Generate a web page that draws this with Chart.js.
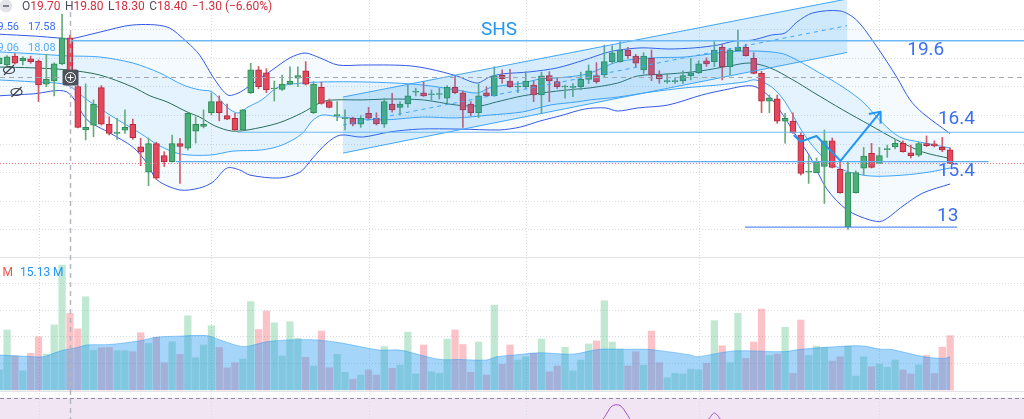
<!DOCTYPE html>
<html>
<head>
<meta charset="utf-8">
<script src="https://cdn.jsdelivr.net/npm/chart.js@4.4.1/dist/chart.umd.min.js"></script>
<style>
  html, body { margin: 0; padding: 0; background: #fff; }
  #wrap { width: 1024px; height: 419px; position: relative; }
</style>
</head>
<body>
<div id="wrap"><canvas id="chart"></canvas></div>
<script>
// OHLC per bar (index 0 = partly cut bar at the left edge)
const opens = [18.8, 18.75, 19.06, 18.9, 18.97, 18.89, 18.08, 18.19, 18.79, 19.70,
  18.0, 16.48, 16.65, 17.96, 16.68, 16.36, 16.47, 16.68, 15.89, 15.0,
  16.0, 15.58, 15.37, 16.0, 15.84, 16.44, 16.6, 17.08, 17.47, 16.98,
  16.89, 16.48, 17.78, 18.58, 18.48, 17.91, 17.9, 18.08, 18.29, 18.55,
  17.08, 17.97, 17.47, 16.98, 16.87, 16.89, 16.68, 17.06, 16.89, 16.68,
  17.38, 17.27, 17.39, 17.8, 17.78, 17.71, 17.72, 17.59, 17.97, 17.78,
  17.38, 17.08, 17.78, 17.68, 18.39, 18.19, 17.98, 17.99, 18.05, 17.7,
  18.38, 18.17, 17.98, 17.97, 17.99, 18.25, 18.38, 18.4, 18.87, 18.87,
  19.27, 19.06, 18.58, 18.98, 18.4, 18.17, 18.17, 18.19, 18.38, 18.48,
  18.9, 18.87, 19.37, 18.69, 19.25, 19.37, 18.98, 18.46, 17.49, 17.57,
  16.79, 16.79, 16.3, 15.0, 14.99, 15.2, 16.1, 15.1, 13.1, 14.29,
  15.14, 15.66, 15.31, 15.79, 15.89, 16.01, 15.68, 15.6, 16.0, 15.99,
  15.87, 15.78]
const highs = [19.05, 19.08, 19.15, 19.04, 19.06, 18.93, 19.12, 18.83, 20.53, 19.80,
  18.05, 18.09, 17.53, 18.03, 16.94, 16.89, 17.18, 16.86, 16.19, 16.2,
  16.05, 15.72, 16.3, 16.19, 17.1, 16.94, 17.18, 17.78, 17.67, 17.38,
  17.06, 17.2, 18.81, 18.7, 18.62, 18.19, 18.4, 18.69, 18.69, 18.87,
  18.17, 18.15, 17.56, 17.47, 17.18, 16.93, 16.98, 17.27, 17.08, 17.59,
  17.76, 17.47, 18.05, 17.94, 18.17, 17.88, 17.94, 18.03, 18.37, 17.85,
  17.47, 18.09, 17.99, 18.69, 18.58, 18.6, 18.17, 18.52, 18.19, 18.5,
  18.52, 18.3, 18.05, 18.1, 18.5, 18.75, 18.83, 19.45, 19.42, 19.57,
  19.37, 19.12, 19.18, 19.27, 18.55, 18.46, 18.3, 18.55, 18.98, 18.9,
  19.0, 19.57, 19.47, 19.33, 19.97, 19.48, 19.18, 18.53, 17.7, 17.7,
  17.06, 17.08, 16.4, 15.58, 15.5, 16.48, 16.2, 15.38, 15.37, 15.05,
  15.87, 16.01, 15.87, 15.95, 16.15, 16.1, 15.95, 16.05, 16.27, 16.1,
  16.22, 15.85]
const lows = [18.7, 18.7, 18.78, 18.75, 18.81, 17.47, 17.99, 17.67, 18.75, 18.30,
  16.55, 16.13, 16.24, 16.65, 16.3, 16.15, 16.36, 16.15, 15.23, 14.53,
  14.75, 15.2, 15.35, 14.61, 15.78, 16.02, 16.55, 17.0, 16.8, 16.84,
  16.46, 16.45, 17.75, 17.92, 17.78, 17.49, 17.86, 18.05, 17.99, 18.05,
  17.05, 17.38, 17.25, 16.8, 16.48, 16.62, 16.57, 16.85, 16.65, 16.57,
  17.1, 17.0, 17.27, 17.67, 17.65, 17.53, 17.56, 17.43, 17.75, 16.57,
  16.98, 16.91, 17.65, 17.65, 18.11, 17.97, 17.78, 17.92, 17.47, 17.06,
  17.47, 17.93, 17.59, 17.64, 17.88, 18.1, 18.11, 18.34, 18.8, 18.85,
  18.98, 18.69, 18.44, 18.2, 18.11, 18.11, 18.11, 18.11, 18.23, 18.45,
  18.7, 18.69, 18.23, 18.4, 19.24, 19.06, 18.44, 17.08, 17.08, 16.71,
  16.02, 16.36, 14.9, 14.61, 14.98, 13.91, 15.15, 14.27, 13.0, 14.27,
  14.9, 15.15, 15.3, 15.52, 15.82, 15.7, 15.5, 15.55, 15.9, 15.88,
  15.72, 15.3]
const closes = [19.0, 19.04, 18.81, 18.98, 18.87, 18.05, 18.26, 18.79, 19.70, 18.40,
  16.57, 16.57, 17.38, 16.68, 16.36, 16.39, 16.57, 16.21, 15.7, 16.0,
  14.79, 15.37, 16.0, 15.9, 17.06, 16.68, 16.68, 17.47, 17.08, 16.86,
  16.48, 17.18, 18.58, 17.99, 17.88, 17.93, 18.08, 18.19, 18.38, 18.08,
  18.08, 17.41, 17.27, 17.0, 16.9, 16.68, 16.89, 16.89, 16.69, 17.47,
  17.18, 17.38, 17.67, 17.82, 17.67, 17.73, 17.74, 17.97, 17.78, 17.18,
  17.08, 17.67, 17.67, 18.37, 18.27, 17.99, 18.0, 18.19, 17.7, 18.37,
  18.19, 17.99, 18.0, 18.0, 18.25, 18.55, 18.17, 18.87, 19.18, 19.27,
  19.08, 18.81, 19.06, 18.4, 18.27, 18.19, 18.2, 18.38, 18.48, 18.79,
  18.79, 19.27, 18.69, 19.27, 19.37, 19.08, 18.46, 17.49, 17.6, 16.79,
  16.89, 16.38, 14.96, 15.03, 15.37, 16.1, 15.17, 14.29, 14.99, 14.99,
  15.57, 15.17, 15.58, 15.81, 16.01, 15.72, 15.58, 16.0, 15.93, 15.92,
  15.78, 15.31]

// volume per bar, millions
const volumes = [7.5, 22.4, 12.7, 7.2, 13.7, 19.9, 13.4, 24.3, 46.6, 28.6,
  22.8, 34.8, 14.9, 15.8, 15.9, 14.7, 14.7, 14.3, 21.4, 17.4,
  19.7, 10.2, 18.0, 13.3, 27.7, 12.1, 16.8, 24.0, 15.9, 8.3,
  10.2, 11.6, 33.0, 22.6, 29.5, 25.1, 12.7, 25.5, 19.3, 12.2,
  9.0, 22.0, 8.3, 13.3, 6.6, 4.0, 5.6, 7.5, 5.6, 16.2,
  8.1, 9.3, 21.6, 6.0, 16.8, 6.8, 6.2, 19.0, 22.4, 17.0,
  6.6, 17.9, 5.6, 31.7, 9.6, 16.8, 11.2, 12.4, 13.7, 19.0,
  6.8, 9.0, 15.9, 7.1, 11.2, 17.2, 18.3, 33.3, 17.9, 15.3,
  9.0, 14.3, 9.3, 22.0, 10.2, 4.6, 6.2, 6.0, 7.8, 7.5,
  10.0, 25.9, 16.5, 10.2, 28.6, 11.8, 17.9, 30.2, 12.9, 13.4,
  23.4, 6.2, 26.1, 12.9, 16.4, 15.9, 10.8, 12.4, 16.4, 5.2,
  12.4, 8.7, 9.7, 8.5, 11.2, 7.5, 6.0, 9.4, 12.9, 6.2,
  16.0, 20.3]

// volume moving average, [bar, millions]
const volumeMA = [[-0.2, 13.1], [2.6, 12.7], [5.6, 12.4], [6.9, 13.7], [8.2, 14.9], [9.86, 15.8],
  [11.1, 16.8], [14.1, 17.0], [17.9, 18.4], [20.0, 19.7], [23.0, 20.1], [26.4, 20.3],
  [28.1, 18.7], [31.1, 16.2], [34.0, 18.0], [37.0, 18.7], [40.4, 18.7], [43.4, 17.6],
  [45.9, 16.2], [48.4, 14.9], [51.0, 14.9], [53.5, 13.1], [56.1, 11.4], [58.6, 11.4],
  [62.0, 11.2], [63.3, 12.4], [66.3, 13.3], [68.8, 13.9], [73.0, 13.4], [76.4, 15.2],
  [79.8, 15.2], [82.4, 15.2], [84.1, 14.7], [87.9, 13.1], [88.8, 12.4], [93.5, 14.6],
  [99.85, 14.3], [102.0, 15.2], [107.9, 16.4], [110.0, 16.4], [112.15, 15.2], [113.4, 15.2],
  [117.7, 12.4], [120.2, 11.8], [121.0, 12.4]]

// Bollinger lines, [bar, price]
const bbOuterUpper = [[-0.2, 19.83], [4.55, 19.76], [7.74, 19.69], [9.0, 19.66], [12.8, 19.90], [17.0, 20.15],
  [21.35, 20.08], [23.9, 19.55], [25.5, 19.10], [27.45, 18.23], [29.1, 17.70], [30.4, 17.77],
  [31.65, 17.98], [34.7, 18.57], [37.0, 19.0], [38.9, 19.17], [40.8, 19.0], [43.1, 18.75],
  [46.2, 18.75], [49.7, 18.75], [52.3, 18.72], [54.8, 18.61], [58.2, 18.37], [60.8, 18.12],
  [62.4, 18.33], [64.1, 18.44], [67.5, 18.51], [71.0, 18.65], [74.5, 18.93], [77.1, 19.17],
  [78.7, 19.27], [81.8, 19.35], [85.1, 19.31], [88.5, 19.35], [91.45, 19.45], [93.6, 19.59],
  [95.8, 19.62], [98.3, 19.80], [100.0, 19.87], [101.5, 20.25], [103.5, 20.57], [107.0, 20.64],
  [109.1, 20.32], [111.7, 19.38], [114.2, 18.33], [115.9, 17.53], [117.5, 17.07], [121.0, 16.35]]
const bbOuterLower = [[-0.2, 17.67], [4.3, 17.74], [8.6, 17.81], [11.2, 16.83], [14.1, 16.37], [17.0, 15.88],
  [18.8, 15.32], [20.1, 14.73], [23.0, 14.38], [25.5, 14.45], [27.2, 14.66], [29.0, 15.15],
  [30.6, 15.08], [31.9, 14.90], [35.7, 14.80], [38.3, 15.01], [39.9, 15.50], [41.7, 16.02],
  [43.4, 16.30], [46.2, 16.23], [49.7, 16.41], [53.5, 16.51], [58.6, 16.51], [63.7, 16.48],
  [66.3, 16.58], [68.8, 16.79], [71.35, 16.97], [74.5, 17.21], [77.1, 17.25], [78.7, 17.14],
  [81.3, 17.25], [85.1, 17.35], [89.4, 17.70], [92.3, 17.88], [95.8, 18.02], [97.8, 17.70],
  [99.3, 17.18], [101.2, 16.37], [103.2, 15.53], [105.3, 14.42], [107.9, 13.68], [110.8, 13.33],
  [112.4, 13.30], [115.0, 13.82], [117.5, 14.27], [121.0, 14.59]]
const bbInnerUpper = [[-0.2, 19.21], [4.55, 19.14], [8.6, 19.07], [12.8, 19.03], [17.0, 18.82], [20.45, 18.47],
  [23.4, 18.05], [25.5, 17.88], [27.1, 17.81], [29.1, 17.25], [30.4, 17.07], [31.65, 17.28],
  [33.4, 17.53], [35.5, 17.98], [38.5, 18.12], [41.8, 18.16], [45.9, 18.16], [50.35, 18.12],
  [53.9, 18.05], [58.2, 17.88], [60.8, 17.77], [62.4, 17.95], [64.6, 18.05], [66.6, 18.12],
  [68.8, 18.26], [71.0, 18.30], [73.5, 18.37], [75.2, 18.47], [78.7, 18.86], [83.05, 19.0],
  [87.25, 19.03], [91.45, 19.17], [94.9, 19.24], [98.1, 19.21], [100.2, 19.10], [104.4, 18.47],
  [107.35, 17.98], [109.9, 17.46], [112.4, 16.72], [114.6, 16.23], [117.1, 16.06], [121.0, 15.85]]
const bbInnerLower = [[-0.2, 18.23], [4.3, 18.16], [8.6, 18.05], [11.2, 17.53], [14.1, 17.0], [17.9, 16.37],
  [20.45, 15.92], [23.0, 15.64], [26.8, 15.60], [29.75, 15.74], [33.4, 15.78], [36.0, 15.95],
  [38.5, 16.34], [39.8, 16.79], [41.07, 17.0], [43.4, 16.93], [48.7, 16.83], [53.9, 16.93],
  [58.2, 16.90], [62.4, 17.0], [66.6, 17.11], [70.1, 17.35], [73.5, 17.46], [75.2, 17.53],
  [78.7, 17.63], [83.05, 17.81], [87.25, 17.95], [91.45, 18.05], [94.9, 18.16], [96.2, 18.23],
  [98.3, 17.98], [100.0, 17.46], [102.3, 16.37], [104.8, 15.53], [107.35, 15.08], [110.8, 14.87],
  [115.0, 14.90], [118.4, 15.01], [121.0, 15.15]]
const bbBasis = [[-0.2, 18.68], [4.3, 18.65], [8.6, 18.58], [12.8, 18.40], [17.0, 17.98], [19.2, 17.67],
  [21.35, 17.46], [23.9, 17.11], [25.5, 16.93], [27.45, 16.62], [29.6, 16.44], [31.65, 16.48],
  [35.5, 16.72], [38.5, 17.07], [41.07, 17.46], [42.7, 17.53], [46.2, 17.53], [49.7, 17.56],
  [53.9, 17.53], [58.2, 17.35], [61.2, 17.32], [63.3, 17.46], [66.6, 17.67], [70.1, 17.81],
  [73.5, 17.91], [75.2, 17.95], [78.7, 18.12], [81.3, 18.37], [85.35, 18.44], [89.2, 18.54],
  [93.0, 18.72], [95.5, 18.82], [98.1, 18.65], [101.0, 18.23], [103.5, 17.81], [107.35, 17.18],
  [110.8, 16.65], [114.2, 16.13], [117.5, 15.71], [121.0, 15.48]]

// RSI, only the stretches that reach into the visible strip
const rsiValues = [[76, 45], [77, 53.5], [78, 63.1], [79, 63.5], [80, 55], [81, 46],
  [90, 51], [91, 57.2], [92, 50]]
const rsiBand = [30, 70]

// drawings on the price pane
const channel = { from: 43.74, to: 107.9, top: [17.63, 21.06], bottom: [15.67, 19.19] }
const rays = [{ from: 9, price: 19.6, width: 1.5 }, { from: 30.3, price: 16.4, width: 1 }]
const segments = [{ from: 22.5, to: 125.9, price: 15.37, color: '#5aaef5' },
  { from: 94.9, to: 121.9, price: 13.08, color: '#5b8ff5' }]
const arrowPath = [[101.1, 16.30], [101.97, 16.07], [104.0, 16.27], [107.05, 15.40], [112.15, 17.12]]
const levelLabels = [
  { text: 'SHS', at: 63.6, price: 19.96, color: '#2196f3' },
  { text: '19.6', at: 117.9, price: 19.28, color: '#3a6ff2' },
  { text: '16.4', at: 121.8, price: 16.84, color: '#3a6ff2' },
  { text: '15.4', at: 121.8, price: 15.03, color: '#3a6ff2' },
  { text: '13', at: 120.7, price: 13.47, color: '#3a6ff2' }
]
const crosshair = { at: 9, price: 18.33 }
const monthTicks = [5, 27, 47, 67, 89, 112]
const priceGrid = [13, 14, 15, 16, 17, 18, 19, 20]
const volumeGrid = [10, 20, 30, 40]
const headerValues = [['O', '19.70'], ['H', '19.80'], ['L', '18.30'], ['C', '18.40']]
const headerChange = '\u22121.30 (\u22126.60%)'

const isUp = (i) => closes[i] >= opens[i]
const toXY = (pts) => pts.map(([x, y]) => ({ x, y }))

const GREEN = '#4caf78'
const GREEN_EDGE = '#2e8b57'
const RED = '#e5475c'
const RED_EDGE = '#b02a3c'

// pane separators (layout, in pixels)
const VOLUME_PANE_TOP = 257.5
const RSI_PANE_TOP = 391.5

const hline = (ctx, y, x0, x1) => {
  ctx.beginPath()
  ctx.moveTo(x0, y)
  ctx.lineTo(x1, y)
  ctx.stroke()
}

const backgroundLayer = {
  id: 'backgroundLayer',
  beforeDatasetsDraw(chart) {
    const { ctx, chartArea: a, scales } = chart
    const { x, y, yv, yr } = scales
    ctx.save()
    // RSI band
    const r70 = yr.getPixelForValue(rsiBand[1])
    const r30 = yr.getPixelForValue(rsiBand[0])
    ctx.fillStyle = '#f1e5f4'
    ctx.fillRect(a.left, r70, a.right - a.left, r30 - r70)

    // dotted grid
    ctx.strokeStyle = '#d9dce3'
    ctx.lineWidth = 1
    ctx.setLineDash([1, 2])
    priceGrid.forEach((p) => hline(ctx, Math.round(y.getPixelForValue(p)) + 0.5, a.left, a.right))
    volumeGrid.forEach((v) => hline(ctx, Math.round(yv.getPixelForValue(v)) + 0.5, a.left, a.right))
    monthTicks.forEach((t) => {
      const px = Math.round(x.getPixelForValue(t)) + 0.5
      ctx.beginPath()
      ctx.moveTo(px, a.top)
      ctx.lineTo(px, a.bottom)
      ctx.stroke()
    })

    // pane separators
    ctx.setLineDash([])
    ctx.strokeStyle = '#e0e3eb'
    hline(ctx, VOLUME_PANE_TOP, a.left, a.right)
    hline(ctx, RSI_PANE_TOP, a.left, a.right)

    // RSI 70 level
    ctx.strokeStyle = '#8d8f99'
    ctx.setLineDash([4, 3])
    hline(ctx, Math.round(r70) + 0.5, a.left, a.right)
    ctx.restore()
  }
}

const drawingLayer = {
  id: 'drawingLayer',
  afterDatasetsDraw(chart) {
    const { ctx, chartArea: a, scales } = chart
    const { x, y } = scales
    const px = (v) => x.getPixelForValue(v)
    const py = (v) => y.getPixelForValue(v)
    ctx.save()

    // parallel channel
    const cx0 = px(channel.from), cx1 = px(channel.to)
    ctx.fillStyle = 'rgba(33,150,243,0.18)'
    ctx.beginPath()
    ctx.moveTo(cx0, py(channel.top[0]))
    ctx.lineTo(cx1, py(channel.top[1]))
    ctx.lineTo(cx1, py(channel.bottom[1]))
    ctx.lineTo(cx0, py(channel.bottom[0]))
    ctx.closePath()
    ctx.fill()
    ctx.strokeStyle = '#42a5f5'
    ctx.lineWidth = 1
    ctx.beginPath()
    ctx.moveTo(cx0, py(channel.top[0]))
    ctx.lineTo(cx1, py(channel.top[1]))
    ctx.moveTo(cx0, py(channel.bottom[0]))
    ctx.lineTo(cx1, py(channel.bottom[1]))
    ctx.stroke()
    ctx.setLineDash([4, 4])
    ctx.beginPath()
    ctx.moveTo(cx0, (py(channel.top[0]) + py(channel.bottom[0])) / 2)
    ctx.lineTo(cx1, (py(channel.top[1]) + py(channel.bottom[1])) / 2)
    ctx.stroke()
    ctx.setLineDash([])

    // horizontal rays and segments
    rays.forEach((r) => {
      ctx.strokeStyle = '#6cb9f6'
      ctx.lineWidth = r.width
      hline(ctx, py(r.price), px(r.from), a.right)
    })
    segments.forEach((s) => {
      ctx.strokeStyle = s.color
      ctx.lineWidth = 1.2
      hline(ctx, py(s.price), px(s.from), Math.min(px(s.to), a.right))
    })

    // arrow path
    ctx.strokeStyle = '#2196f3'
    ctx.lineWidth = 2
    ctx.lineJoin = 'round'
    ctx.beginPath()
    arrowPath.forEach(([i, p], k) => (k ? ctx.lineTo(px(i), py(p)) : ctx.moveTo(px(i), py(p))))
    ctx.stroke()
    const [ti, tp] = arrowPath[arrowPath.length - 1]
    const [si, sp] = arrowPath[arrowPath.length - 2]
    const ex = px(ti), ey = py(tp)
    const ang = Math.atan2(ey - py(sp), ex - px(si))
    ctx.beginPath()
    ctx.moveTo(ex + 12 * Math.cos(ang + Math.PI * 0.78), ey + 12 * Math.sin(ang + Math.PI * 0.78))
    ctx.lineTo(ex, ey)
    ctx.lineTo(ex + 12 * Math.cos(ang - Math.PI * 0.78), ey + 12 * Math.sin(ang - Math.PI * 0.78))
    ctx.stroke()

    // labels
    ctx.font = '19px Roboto, "Liberation Sans", sans-serif'
    ctx.textAlign = 'center'
    ctx.textBaseline = 'middle'
    levelLabels.forEach((l) => {
      ctx.fillStyle = l.color
      ctx.fillText(l.text, px(l.at), py(l.price))
    })

    // last price line
    ctx.strokeStyle = '#f07a84'
    ctx.lineWidth = 1
    ctx.setLineDash([1, 2])
    hline(ctx, Math.round(py(closes[closes.length - 1])) + 0.5, a.left, a.right)

    // crosshair
    const chx = Math.round(px(crosshair.at)) + 0.5
    const chy = Math.round(py(crosshair.price)) + 0.5
    ctx.strokeStyle = '#b4b7bf'
    ctx.lineWidth = 1.5
    ctx.setLineDash([5, 4])
    ctx.beginPath()
    ctx.moveTo(chx, a.top + 12)
    ctx.lineTo(chx, a.bottom)
    ctx.stroke()
    ctx.strokeStyle = '#a3a6af'
    ctx.lineWidth = 1
    hline(ctx, chy, a.left, a.right)
    ctx.setLineDash([])
    ctx.fillStyle = '#4e515b'
    ctx.beginPath()
    ctx.roundRect(chx - 8, chy - 8, 16, 16, 2)
    ctx.fill()
    ctx.strokeStyle = '#ffffff'
    ctx.lineWidth = 1
    ctx.beginPath()
    ctx.arc(chx, chy, 5, 0, Math.PI * 2)
    ctx.moveTo(chx - 3, chy)
    ctx.lineTo(chx + 3, chy)
    ctx.moveTo(chx, chy - 3)
    ctx.lineTo(chx, chy + 3)
    ctx.stroke()

    // header: OHLC of hovered bar
    ctx.textAlign = 'left'
    ctx.font = '12px Roboto, "Liberation Sans", sans-serif'
    ctx.fillStyle = '#e3e4e8'
    ctx.beginPath()
    ctx.arc(6, 6, 6.5, 0, Math.PI * 2)
    ctx.fill()
    ctx.strokeStyle = '#5d606b'
    ctx.lineWidth = 1.5
    hline(ctx, 6, 3, 9)
    let hx = 22
    headerValues.forEach(([k, v]) => {
      ctx.fillStyle = '#4a4e59'
      ctx.fillText(k, hx, 7)
      hx += ctx.measureText(k).width
      ctx.fillStyle = '#d32f3f'
      ctx.fillText(v, hx, 7)
      hx += ctx.measureText(v).width + 4.5
    })
    ctx.fillText(headerChange, hx, 7)

    // indicator legends, partly cut at the left edge
    ctx.font = '11px Roboto, "Liberation Sans", sans-serif'
    ctx.textAlign = 'right'
    ctx.fillStyle = '#3a6ff5'
    ctx.fillText('19.56', 19, 27)
    ctx.fillStyle = '#56acf6'
    ctx.fillText('19.06', 19, 48)
    ctx.font = '12px Roboto, "Liberation Sans", sans-serif'
    ctx.fillStyle = '#ef5350'
    ctx.fillText('M', 13, 273)
    ctx.textAlign = 'left'
    ctx.fillStyle = '#2196f3'
    ctx.fillText('15.13 M', 20, 273)
    ctx.font = '11px Roboto, "Liberation Sans", sans-serif'
    ctx.fillStyle = '#3a6ff5'
    ctx.fillText('17.58', 28, 27)
    ctx.fillStyle = '#56acf6'
    ctx.fillText('18.08', 28, 48)

    // hidden-indicator eye icons
    ctx.strokeStyle = '#3c3f48'
    ctx.lineWidth = 1.2
    ;[[9, 70], [16.5, 92]].forEach(([ix, iy]) => {
      ctx.beginPath()
      ctx.ellipse(ix, iy, 5.5, 3.5, 0, 0, Math.PI * 2)
      ctx.moveTo(ix - 5, iy + 5)
      ctx.lineTo(ix + 5, iy - 5)
      ctx.stroke()
    })
    ctx.restore()
  }
}

const bandLine = (pts, color, extra) => Object.assign({
  type: 'line',
  data: toXY(pts),
  yAxisID: 'y',
  borderColor: color,
  borderWidth: 1,
  pointRadius: 0,
  tension: 0.3,
  fill: false
}, extra)

const barIndex = opens.map((_, i) => i)

new Chart(document.getElementById('chart'), {
  type: 'bar',
  data: {
    datasets: [
      {
        // candle bodies
        data: barIndex.map((i) => ({ x: i, y: [opens[i], closes[i]] })),
        yAxisID: 'y',
        backgroundColor: barIndex.map((i) => (isUp(i) ? GREEN : RED)),
        borderColor: barIndex.map((i) => (isUp(i) ? GREEN_EDGE : RED_EDGE)),
        borderWidth: 1,
        borderSkipped: false,
        barThickness: 6,
        minBarLength: 1,
        grouped: false,
        order: 0
      },
      {
        // wicks
        data: barIndex.map((i) => ({ x: i, y: [lows[i], highs[i]] })),
        yAxisID: 'y',
        backgroundColor: barIndex.map((i) => (isUp(i) ? '#6aab7c' : '#d35a69')),
        barThickness: 1,
        grouped: false,
        order: 1
      },
      bandLine(bbOuterUpper, '#3559e6', { fill: '+1', backgroundColor: 'rgba(33,150,243,0.05)', order: 4 }),
      bandLine(bbOuterLower, '#3559e6', { order: 4 }),
      bandLine(bbInnerUpper, '#42a5f5', { fill: '+1', backgroundColor: 'rgba(33,150,243,0.07)', order: 3 }),
      bandLine(bbInnerLower, '#42a5f5', { order: 3 }),
      bandLine(bbBasis, '#2b6d57', { order: 2 }),
      {
        type: 'line',
        data: toXY(volumeMA),
        yAxisID: 'yv',
        borderColor: 'rgba(33,150,243,0.45)',
        borderWidth: 1,
        backgroundColor: 'rgba(33,150,243,0.4)',
        pointRadius: 0,
        tension: 0.3,
        fill: 'origin',
        order: 5
      },
      {
        data: barIndex.map((i) => ({ x: i, y: volumes[i] })),
        yAxisID: 'yv',
        backgroundColor: barIndex.map((i) => (isUp(i) ? 'rgba(34,171,94,0.28)' : 'rgba(242,54,69,0.3)')),
        barThickness: 6.6,
        grouped: false,
        order: 6
      },
      {
        type: 'line',
        data: toXY(rsiValues),
        yAxisID: 'yr',
        borderColor: '#a352c4',
        borderWidth: 1,
        pointRadius: 0,
        tension: 0.3,
        fill: false,
        order: 2
      }
    ]
  },
  options: {
    responsive: true,
    maintainAspectRatio: false,
    animation: false,
    events: [],
    layout: { padding: 0 },
    plugins: {
      legend: { display: false },
      tooltip: { enabled: false }
    },
    scales: {
      x: { type: 'linear', min: 0.1, max: 130.4, offset: false, display: false },
      y: { type: 'linear', min: 6.373, max: 21.023, display: false },
      yv: { type: 'linear', min: -10.8, max: 145.5, display: false },
      yr: { type: 'linear', min: 52.2, max: 401.4, display: false }
    }
  },
  plugins: [backgroundLayer, drawingLayer]
})
</script>
</body>
</html>
